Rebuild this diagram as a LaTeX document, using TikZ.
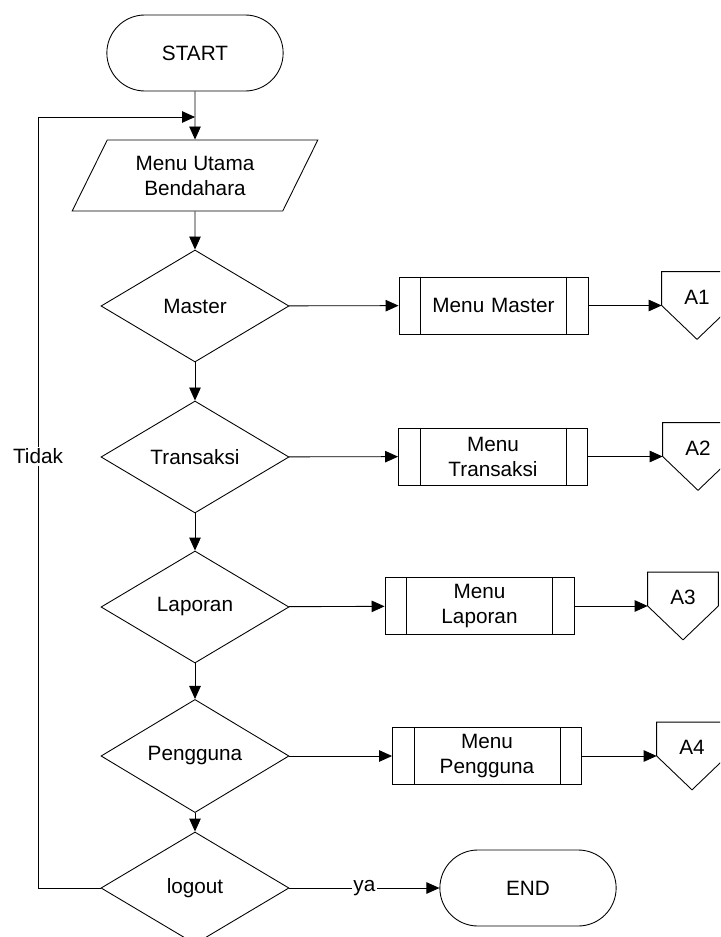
\documentclass[tikz,border=0pt]{standalone}
\usepackage{fontspec}
\setmainfont{Liberation Sans}
\usetikzlibrary{positioning,arrows.meta,shapes.geometric,shapes.misc}
\tikzset{
    >={Triangle[length=0.26cm,width=0.23cm]},
    every node/.style={font=\fontsize{11.8}{14.2}\selectfont},
    terminal/.style={
        rounded rectangle,
        draw=black, line width=0.5pt,
        minimum width=3.76cm,
        minimum height=1.52cm
    },
    inout/.style={
        trapezium,
        trapezium left angle=63, trapezium right angle=117,
        trapezium stretches=true,
        draw=black, line width=0.5pt,
        minimum width=4.92cm,
        minimum height=1.42cm,
        text centered
    },
    decision/.style={
        diamond,
        draw=black, line width=0.5pt,
        inner sep=0pt,
        minimum width=3.76cm,
        minimum height=2.24cm
    },
    subproc/.style={
        rectangle,
        draw=black, line width=0.5pt,
        minimum width=3.78cm,
        minimum height=1.14cm,
        text width=2.6cm,
        text centered
    },
    offpage/.style={
        rectangle,
        inner sep=0pt,
        minimum width=1.4cm,
        minimum height=1.34cm,
        text height=0.3cm,
        text depth=0.36cm
    },
    line/.style={draw, line width=0.5pt, ->}
}
\begin{document}
\begin{tikzpicture}
    \useasboundingbox (0,0) rectangle (14.4,-18.74);
    \clip (0,0) rectangle (14.4,-18.74);

    % main column
    \node[terminal] (start) at (3.9,-1.06) {START};
    \node[inout, align=center] (menu) at (3.9,-3.51) {Menu Utama\\Bendahara};
    \node[decision] (master) at (3.9,-6.12) {Master};
    \node[decision] (transaksi) at (3.9,-9.14) {Transaksi};
    \node[decision] (laporan) at (3.9,-12.14) {Laporan};
    \node[decision] (pengguna) at (3.9,-15.12) {Pengguna};
    \node[decision] (logout) at (3.9,-17.76) {logout};
    \node[terminal] (end) at (10.56,-17.76) {END};

    % sub menus
    \node[subproc] (mmaster) at (9.87,-6.11) {Menu Master};
    \node[subproc] (mtrans) at (9.86,-9.13) {Menu\\Transaksi};
    \node[subproc] (mlap) at (9.59,-12.12) {Menu\\Laporan};
    \node[subproc] (mpeng) at (9.74,-15.12) {Menu\\Pengguna};
    \foreach \n in {mmaster,mtrans,mlap,mpeng}{
        \draw[line width=0.5pt] ([xshift=0.44cm]\n.north west) -- ([xshift=0.44cm]\n.south west);
        \draw[line width=0.5pt] ([xshift=-0.44cm]\n.north east) -- ([xshift=-0.44cm]\n.south east);
    }

    % off page connectors
    \node[offpage] (a1) at (13.94,-6.11) {A1};
    \node[offpage] (a2) at (13.96,-9.13) {A2};
    \node[offpage] (a3) at (13.66,-12.12) {A3};
    \node[offpage] (a4) at (13.84,-15.12) {A4};
    \foreach \n in {a1,a2,a3,a4}{
        \draw[line width=0.5pt] (\n.west) |- (\n.north east) -- (\n.east) -- (\n.south) -- cycle;
    }

    \coordinate (loop) at (0.76,-2.34);
    \coordinate (entry) at (3.9,-2.34);

    \draw[line] (start) -- (menu);
    \draw[line] (menu) -- (master);
    \draw[line] (master) -- (transaksi);
    \draw[line] (transaksi) -- (laporan);
    \draw[line] (laporan) -- (pengguna);
    \draw[line] (pengguna) -- (logout);

    \draw[line] (master) -- (mmaster);
    \draw[line] (transaksi) -- (mtrans);
    \draw[line] (laporan) -- (mlap);
    \draw[line] (pengguna) -- (mpeng);
    \draw[line] (mmaster) -- (a1);
    \draw[line] (mtrans) -- (a2);
    \draw[line] (mlap) -- (a3);
    \draw[line] (mpeng) -- (a4);

    \draw[line] (logout) -- node[fill=white, inner sep=1pt] {ya} (end);
    \draw[line] (logout.west) -| node[pos=0.78, fill=white, inner sep=1pt] {Tidak} (loop) -- (entry);
\end{tikzpicture}
\end{document}
